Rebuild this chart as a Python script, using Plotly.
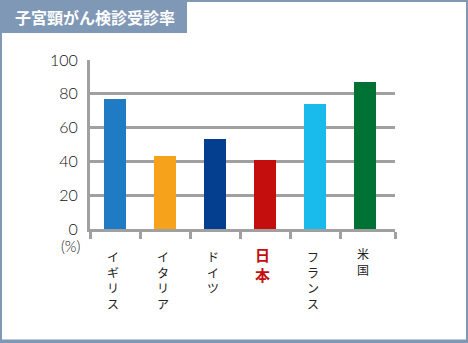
import plotly.graph_objects as go

W, H = 468, 343
ML, MR, MT, MB = 90, 73, 60, 114

title = "子宮頸がん検診受診率"
categories = ["イギリス", "イタリア", "ドイツ", "日本", "フランス", "米国"]
values = [77, 43, 53, 41, 74, 87]
colors = ["#1f7bc4", "#f6a31b", "#033f8e", "#c40d0d", "#18bbec", "#007233"]
yticks = [0, 20, 40, 60, 80, 100]
unit_label = "(%)"

PW = W - ML - MR
PH = H - MT - MB


def px_x(p):
    return (p - ML) / PW


def px_y(p):
    return (H - MB - p) / PH


xs = list(range(len(categories)))

fig = go.Figure()
fig.add_trace(go.Bar(x=xs, y=values, marker=dict(color=colors, line=dict(width=0)),
                     width=0.44, hoverinfo="skip"))

edge_ticks = [i - 0.5 for i in range(len(categories))] + [len(categories) - 0.4]

fig.update_layout(
    width=W, height=H, autosize=False,
    margin=dict(l=ML, r=MR, t=MT, b=MB, pad=0),
    paper_bgcolor="white", plot_bgcolor="white",
    showlegend=False,
    bargap=0,
    xaxis=dict(range=[-0.5, len(categories) - 0.4], tickvals=edge_ticks, showticklabels=False,
               ticks="outside", ticklen=7, tickwidth=3, tickcolor="#a0a0a0",
               showgrid=False, zeroline=False, showline=True, linecolor="#a0a0a0", linewidth=3,
               fixedrange=True),
    yaxis=dict(range=[0, 100], tickvals=yticks, ticks="", showgrid=True, gridcolor="#a0a0a0",
               gridwidth=3, zeroline=False, showline=True, linecolor="#a0a0a0", linewidth=3,
               tickfont=dict(family="Lato", size=16, color="#111111", weight=300), ticklabelstandoff=6,
               fixedrange=True),
)

shapes = []
bc = "#7f98b6"
# outer border
shapes.append(dict(type="rect", xref="paper", yref="paper", x0=px_x(0), x1=px_x(2), y0=px_y(H), y1=px_y(0),
                   fillcolor=bc, line=dict(width=0), layer="above"))
shapes.append(dict(type="rect", xref="paper", yref="paper", x0=px_x(W - 2), x1=px_x(W), y0=px_y(H), y1=px_y(0),
                   fillcolor=bc, line=dict(width=0), layer="above"))
shapes.append(dict(type="rect", xref="paper", yref="paper", x0=px_x(0), x1=px_x(W), y0=px_y(2), y1=px_y(0),
                   fillcolor=bc, line=dict(width=0), layer="above"))
shapes.append(dict(type="rect", xref="paper", yref="paper", x0=px_x(0), x1=px_x(W), y0=px_y(H), y1=px_y(H - 3.5),
                   fillcolor=bc, line=dict(width=0), layer="above"))
# title tab
shapes.append(dict(type="rect", xref="paper", yref="paper", x0=px_x(0), x1=px_x(187), y0=px_y(33), y1=px_y(0),
                   fillcolor=bc, line=dict(width=0), layer="above"))
fig.update_layout(shapes=shapes)

ann = []
ann.append(dict(text="<b>" + title + "</b>", xref="paper", yref="paper", x=px_x(13), y=px_y(17),
                xanchor="left", yanchor="middle", showarrow=False,
                font=dict(family="Noto Sans CJK JP", size=16, color="white")))
ann.append(dict(text=unit_label, xref="paper", yref="paper", x=px_x(71), y=px_y(246),
                xanchor="center", yanchor="middle", showarrow=False,
                font=dict(family="Lato", size=15, color="#111111", weight=300)))

for i, name in enumerate(categories):
    if name == "日本":
        size, color, bold, top = 15, "#c40d0d", True, 243
    elif len(name) == 2:
        size, color, bold, top = 12, "#222222", False, 244
    else:
        size, color, bold, top = 12, "#222222", False, 247
    t = "<br>".join(name)
    if bold:
        t = "<b>" + t + "</b>"
    ann.append(dict(text=t, xref="x", yref="paper", x=i - 0.05, y=px_y(top),
                    xanchor="center", yanchor="top", showarrow=False, borderpad=0,
                    font=dict(family="Noto Sans CJK JP", size=size, color=color)))
fig.update_layout(annotations=ann)

fig.write_html("out.html", config={"displayModeBar": False})
